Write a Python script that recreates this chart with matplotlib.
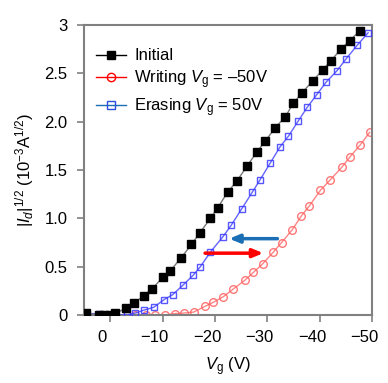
import matplotlib
matplotlib.use("Agg")
import matplotlib.pyplot as plt
import matplotlib.transforms as mtrans
from matplotlib.lines import Line2D

plt.rcParams['font.family'] = ['Liberation Sans', 'DejaVu Sans']
plt.rcParams['mathtext.fontset'] = 'custom'
plt.rcParams['mathtext.rm'] = 'Liberation Sans'
plt.rcParams['mathtext.it'] = 'Liberation Sans:italic'

# gate voltage (V) and |Id|^1/2 (10^-3 A^1/2)
vg_init = [4.6, 2.2, 1.1, 0, -1.0, -3.1, -4.5, -6.4, -8.0, -10.0, -11.5, -13.5, -15.5, -17.1,
           -19.1, -20.5, -22.4, -24.2, -26.1, -28.0, -29.6, -31.5, -33.4, -34.9, -36.6,
           -38.6, -40.6, -42.1, -44.0, -45.7, -47.6]
id_init = [0.02, 0, 0, 0, 0.02, 0.07, 0.12, 0.20, 0.27, 0.39, 0.46, 0.59, 0.73, 0.85,
           1.00, 1.11, 1.27, 1.39, 1.54, 1.69, 1.80, 1.94, 2.05, 2.19, 2.30,
           2.42, 2.54, 2.63, 2.75, 2.84, 2.94]

vg_erase = [4.6, 2.2, 1.1, 0, -1.0, -3.2, -4.8, -6.4, -8.3, -10.3, -11.9, -13.9, -15.8, -17.2,
            -19.1, -21.5, -23.1, -25.1, -27.1, -28.6, -30.5, -32.4, -34.0, -35.9, -37.6,
            -39.4, -41.2, -43.3, -45.0, -47.1, -49.2]
id_erase = [0.02, 0.01, 0.005, 0, 0, 0, 0.02, 0.05, 0.08, 0.16, 0.21, 0.31, 0.41, 0.50,
            0.65, 0.81, 0.93, 1.10, 1.27, 1.40, 1.57, 1.74, 1.85, 2.01, 2.15,
            2.28, 2.41, 2.53, 2.65, 2.79, 2.92]

vg_write = [4.6, 2.2, 1.1, 0, -1.0, -3.2, -4.8, -6.8, -8.5, -10.4, -12.4, -14.0, -15.9, -18.1,
            -19.6, -21.6, -23.5, -25.7, -27.3, -29.1, -31.1, -32.7, -34.7, -36.4, -38.0,
            -40.1, -42.0, -44.2, -45.8, -47.7, -49.5]
id_write = [0, 0, 0, 0, 0, 0, 0, 0, 0, 0, 0.015, 0.02, 0.03, 0.09,
            0.13, 0.19, 0.27, 0.36, 0.44, 0.53, 0.65, 0.75, 0.88, 1.02, 1.13,
            1.29, 1.40, 1.53, 1.64, 1.76, 1.89]

xticks = [0, -10, -20, -30, -40, -50]
xticklabels = ['0', '\u221210', '\u221220', '\u221230', '\u221240', '\u221250']
yticks = [0, 0.5, 1.0, 1.5, 2.0, 2.5, 3]
yticklabels = ['0', '0.5', '1.0', '1.5', '2.0', '2.5', '3']

fig = plt.figure(figsize=(3.88, 3.83), dpi=100)
ax = fig.add_axes([0.2165, 0.1775, 0.743, 0.757])

ax.plot(vg_write, id_write, '-o', color='#ff7070', lw=1, ms=5.5, mfc='none',
        mec='#ff6060', mew=1, alpha=0.85, zorder=2)
ax.plot(vg_erase, id_erase, '-s', color='#4a4aff', lw=1, ms=5, mfc='none',
        mec='#3a3aff', mew=1, alpha=0.85, zorder=3)
ax.plot(vg_init, id_init, '-s', color='#777777', lw=1, ms=5.5, mfc='black',
        mec='black', zorder=4)

# shift arrows
ax.annotate('', xy=(-22.7, 0.79), xytext=(-31.9, 0.79),
            arrowprops=dict(arrowstyle='-|>,head_length=0.6,head_width=0.25',
                            color='#1a6fb5', lw=2.5, shrinkA=0, shrinkB=0), zorder=5)
ax.annotate('', xy=(-29.2, 0.64), xytext=(-18.1, 0.64),
            arrowprops=dict(arrowstyle='-|>,head_length=0.6,head_width=0.25',
                            color='#ff0000', lw=2.5, shrinkA=0, shrinkB=0), zorder=5)

ax.set_xlim(5, -50)
ax.set_ylim(0, 3)
ax.set_xticks(xticks)
ax.set_xticklabels(xticklabels)
ax.set_yticks(yticks)
ax.set_yticklabels(yticklabels)
ax.tick_params(axis='both', direction='out', length=5, width=1.2, color='#808080',
               labelsize=12)
ax.tick_params(axis='x', pad=6)
ax.tick_params(axis='y', pad=7)
for lab in ax.get_xticklabels():
    lab.set_transform(lab.get_transform() + mtrans.ScaledTranslation(-8/100, 0, fig.dpi_scale_trans))
for s in ax.spines.values():
    s.set_color('#808080')
    s.set_linewidth(1.5)

ax.set_xlabel(r'$V_\mathrm{g}$ (V)', fontsize=12, labelpad=7)
ax.set_ylabel(r'$|I_d|^{1/2}$ (10$^{-3}$A$^{1/2}$)', fontsize=12, labelpad=6)

handles = [
    Line2D([], [], color='black', marker='s', ms=6, mfc='black', lw=1),
    Line2D([], [], color='#ff0000', marker='o', ms=6, mfc='none', lw=1),
    Line2D([], [], color='#1a6fb5', marker='s', ms=6, mfc='none', mec='#2a50e0', lw=1),
]
labels = ['Initial', 'Writing $V_\\mathrm{g}$ = \u201350V', 'Erasing $V_\\mathrm{g}$ = 50V']
ax.legend(handles, labels, loc='upper left', frameon=False, fontsize=12,
          handlelength=1.8, handletextpad=0.5, labelspacing=0.3,
          borderaxespad=0.3, bbox_to_anchor=(0.0, 0.96))

fig.savefig('out.png', dpi=100)
